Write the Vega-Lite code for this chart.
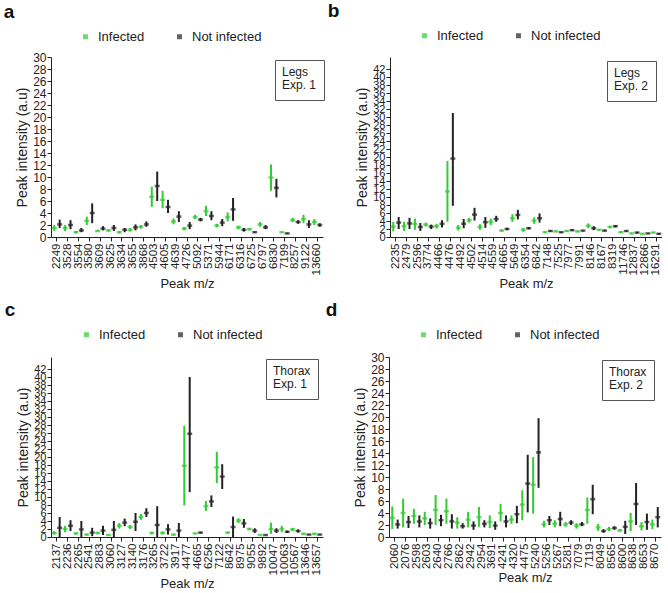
{
"$schema": "https://vega.github.io/schema/vega-lite/v6.json",
"padding": {"left": 3, "top": 2, "right": 0, "bottom": 0},
"config": {
  "font": "Liberation Sans",
  "view": {"stroke": null},
  "axis": {"grid": false, "domainColor": "#222", "tickColor": "#222", "labelColor": "#222", "titleColor": "#222", "titleFontWeight": "normal", "tickSize": 4, "labelFontSize": 12, "titleFontSize": 14},
  "axisX": {"labelAngle": 270, "labelFontSize": 11.5, "titleFontSize": 13, "labelPadding": 2, "titlePadding": 3},
  "axisY": {"labelOverlap": false, "labelPadding": 1, "titlePadding": 3},
  "title": {"fontSize": 19, "fontWeight": "bold", "anchor": "start", "color": "#111", "frame": "bounds"},
  "legend": {"labelColor": "#222", "titleColor": "#222"}
},
"datasets": {
"a": [
{"mz":2249,"g":"Infected","m":1.5,"lo":1.0,"hi":2.0},{"mz":2249,"g":"Not infected","m":2.1,"lo":1.5,"hi":2.9},
{"mz":3528,"g":"Infected","m":1.5,"lo":1.0,"hi":2.0},{"mz":3528,"g":"Not infected","m":2.0,"lo":1.3,"hi":2.8},
{"mz":3554,"g":"Infected","m":0.8,"lo":0.6,"hi":1.0},{"mz":3554,"g":"Not infected","m":1.1,"lo":0.8,"hi":1.5},
{"mz":3580,"g":"Infected","m":2.7,"lo":2.0,"hi":3.4},{"mz":3580,"g":"Not infected","m":4.0,"lo":2.3,"hi":5.6},
{"mz":3609,"g":"Infected","m":1.0,"lo":0.9,"hi":1.2},{"mz":3609,"g":"Not infected","m":1.4,"lo":1.1,"hi":1.8},
{"mz":3625,"g":"Infected","m":1.1,"lo":0.9,"hi":1.3},{"mz":3625,"g":"Not infected","m":1.5,"lo":1.0,"hi":2.0},
{"mz":3634,"g":"Infected","m":0.8,"lo":0.6,"hi":1.0},{"mz":3634,"g":"Not infected","m":1.2,"lo":0.8,"hi":1.5},
{"mz":3655,"g":"Infected","m":1.2,"lo":0.9,"hi":1.5},{"mz":3655,"g":"Not infected","m":1.6,"lo":1.1,"hi":2.1},
{"mz":3868,"g":"Infected","m":1.7,"lo":1.4,"hi":2.0},{"mz":3868,"g":"Not infected","m":2.1,"lo":1.7,"hi":2.6},
{"mz":4503,"g":"Infected","m":6.7,"lo":5.0,"hi":8.4},{"mz":4503,"g":"Not infected","m":8.5,"lo":6.0,"hi":10.9},
{"mz":4605,"g":"Infected","m":6.2,"lo":4.8,"hi":7.7},{"mz":4605,"g":"Not infected","m":5.0,"lo":4.0,"hi":6.2},
{"mz":4639,"g":"Infected","m":2.6,"lo":2.1,"hi":3.1},{"mz":4639,"g":"Not infected","m":3.4,"lo":2.5,"hi":4.3},
{"mz":4726,"g":"Infected","m":1.4,"lo":1.1,"hi":1.7},{"mz":4726,"g":"Not infected","m":1.9,"lo":1.3,"hi":2.5},
{"mz":5092,"g":"Infected","m":3.3,"lo":3.0,"hi":3.7},{"mz":5092,"g":"Not infected","m":2.9,"lo":2.6,"hi":3.2},
{"mz":5371,"g":"Infected","m":4.3,"lo":3.5,"hi":5.2},{"mz":5371,"g":"Not infected","m":3.5,"lo":2.8,"hi":4.3},
{"mz":5944,"g":"Infected","m":1.9,"lo":1.6,"hi":2.2},{"mz":5944,"g":"Not infected","m":2.4,"lo":1.8,"hi":3.0},
{"mz":6171,"g":"Infected","m":3.3,"lo":2.6,"hi":4.1},{"mz":6171,"g":"Not infected","m":4.6,"lo":2.7,"hi":6.5},
{"mz":6316,"g":"Infected","m":1.6,"lo":1.3,"hi":1.9},{"mz":6316,"g":"Not infected","m":1.2,"lo":0.9,"hi":1.5},
{"mz":6725,"g":"Infected","m":1.3,"lo":1.1,"hi":1.5},{"mz":6725,"g":"Not infected","m":0.8,"lo":0.7,"hi":0.9},
{"mz":6797,"g":"Infected","m":2.1,"lo":1.7,"hi":2.5},{"mz":6797,"g":"Not infected","m":1.6,"lo":1.3,"hi":2.0},
{"mz":6830,"g":"Infected","m":9.9,"lo":7.7,"hi":12.1},{"mz":6830,"g":"Not infected","m":8.2,"lo":6.6,"hi":9.7},
{"mz":7199,"g":"Infected","m":0.8,"lo":0.7,"hi":0.9},{"mz":7199,"g":"Not infected","m":0.6,"lo":0.5,"hi":0.7},
{"mz":8257,"g":"Infected","m":2.8,"lo":2.5,"hi":3.2},{"mz":8257,"g":"Not infected","m":2.5,"lo":2.2,"hi":2.8},
{"mz":9122,"g":"Infected","m":3.0,"lo":2.3,"hi":3.7},{"mz":9122,"g":"Not infected","m":2.1,"lo":1.5,"hi":2.8},
{"mz":13660,"g":"Infected","m":2.5,"lo":2.0,"hi":3.0},{"mz":13660,"g":"Not infected","m":2.0,"lo":1.7,"hi":2.3}
],
"b": [
{"mz":2235,"g":"Infected","m":2.6,"lo":1.4,"hi":3.8},{"mz":2235,"g":"Not infected","m":3.6,"lo":2.0,"hi":5.0},
{"mz":2479,"g":"Infected","m":2.7,"lo":1.5,"hi":3.8},{"mz":2479,"g":"Not infected","m":3.4,"lo":2.0,"hi":4.8},
{"mz":2596,"g":"Infected","m":3.3,"lo":1.8,"hi":4.6},{"mz":2596,"g":"Not infected","m":2.5,"lo":1.5,"hi":3.5},
{"mz":3774,"g":"Infected","m":3.1,"lo":2.6,"hi":3.6},{"mz":3774,"g":"Not infected","m":2.6,"lo":2.0,"hi":3.1},
{"mz":4466,"g":"Infected","m":2.7,"lo":2.1,"hi":3.3},{"mz":4466,"g":"Not infected","m":3.3,"lo":2.4,"hi":4.2},
{"mz":4476,"g":"Infected","m":11.4,"lo":3.8,"hi":19.0},{"mz":4476,"g":"Not infected","m":19.6,"lo":7.8,"hi":31.0},
{"mz":4492,"g":"Infected","m":2.3,"lo":1.6,"hi":3.0},{"mz":4492,"g":"Not infected","m":3.3,"lo":2.2,"hi":4.5},
{"mz":4502,"g":"Infected","m":4.2,"lo":3.6,"hi":4.8},{"mz":4502,"g":"Not infected","m":5.6,"lo":4.1,"hi":7.3},
{"mz":4514,"g":"Infected","m":2.5,"lo":1.8,"hi":3.2},{"mz":4514,"g":"Not infected","m":3.7,"lo":2.3,"hi":5.0},
{"mz":4559,"g":"Infected","m":3.8,"lo":3.0,"hi":4.6},{"mz":4559,"g":"Not infected","m":4.5,"lo":3.8,"hi":5.3},
{"mz":4665,"g":"Infected","m":1.6,"lo":1.4,"hi":1.9},{"mz":4665,"g":"Not infected","m":2.0,"lo":1.7,"hi":2.3},
{"mz":5649,"g":"Infected","m":4.7,"lo":3.8,"hi":5.7},{"mz":5649,"g":"Not infected","m":5.5,"lo":4.4,"hi":6.8},
{"mz":6354,"g":"Infected","m":1.8,"lo":1.3,"hi":2.3},{"mz":6354,"g":"Not infected","m":2.2,"lo":1.9,"hi":2.5},
{"mz":6842,"g":"Infected","m":4.1,"lo":3.3,"hi":4.9},{"mz":6842,"g":"Not infected","m":4.7,"lo":3.6,"hi":5.9},
{"mz":7148,"g":"Infected","m":1.2,"lo":1.0,"hi":1.4},{"mz":7148,"g":"Not infected","m":1.5,"lo":1.3,"hi":1.7},
{"mz":7525,"g":"Infected","m":1.4,"lo":1.2,"hi":1.6},{"mz":7525,"g":"Not infected","m":1.2,"lo":1.0,"hi":1.3},
{"mz":7977,"g":"Infected","m":1.5,"lo":1.3,"hi":1.7},{"mz":7977,"g":"Not infected","m":1.7,"lo":1.5,"hi":1.9},
{"mz":7991,"g":"Infected","m":1.4,"lo":1.2,"hi":1.6},{"mz":7991,"g":"Not infected","m":1.6,"lo":1.4,"hi":1.7},
{"mz":8146,"g":"Infected","m":2.8,"lo":2.2,"hi":3.4},{"mz":8146,"g":"Not infected","m":2.2,"lo":1.7,"hi":2.7},
{"mz":8167,"g":"Infected","m":1.8,"lo":1.6,"hi":2.0},{"mz":8167,"g":"Not infected","m":1.6,"lo":1.4,"hi":1.8},
{"mz":8319,"g":"Infected","m":2.5,"lo":2.2,"hi":2.8},{"mz":8319,"g":"Not infected","m":2.7,"lo":2.4,"hi":3.0},
{"mz":11746,"g":"Infected","m":1.2,"lo":1.0,"hi":1.5},{"mz":11746,"g":"Not infected","m":1.5,"lo":1.3,"hi":1.7},
{"mz":12837,"g":"Infected","m":0.9,"lo":0.8,"hi":1.1},{"mz":12837,"g":"Not infected","m":1.1,"lo":0.9,"hi":1.3},
{"mz":12866,"g":"Infected","m":0.8,"lo":0.7,"hi":0.9},{"mz":12866,"g":"Not infected","m":0.9,"lo":0.8,"hi":1.0},
{"mz":16291,"g":"Infected","m":1.1,"lo":0.9,"hi":1.3},{"mz":16291,"g":"Not infected","m":0.8,"lo":0.6,"hi":1.0}
],
"c": [
{"mz":2137,"g":"Infected","m":1.0,"lo":0.6,"hi":1.4},{"mz":2137,"g":"Not infected","m":2.3,"lo":0.0,"hi":5.0},
{"mz":2236,"g":"Infected","m":2.0,"lo":1.2,"hi":2.8},{"mz":2236,"g":"Not infected","m":2.8,"lo":1.5,"hi":4.2},
{"mz":2265,"g":"Infected","m":0.9,"lo":0.6,"hi":1.1},{"mz":2265,"g":"Not infected","m":1.9,"lo":0.0,"hi":4.0},
{"mz":2541,"g":"Infected","m":0.6,"lo":0.4,"hi":0.8},{"mz":2541,"g":"Not infected","m":1.1,"lo":0.2,"hi":2.3},
{"mz":2883,"g":"Infected","m":1.0,"lo":0.7,"hi":1.3},{"mz":2883,"g":"Not infected","m":1.6,"lo":0.5,"hi":2.8},
{"mz":3060,"g":"Infected","m":0.5,"lo":0.4,"hi":0.6},{"mz":3060,"g":"Not infected","m":1.8,"lo":0.0,"hi":4.0},
{"mz":3127,"g":"Infected","m":2.8,"lo":2.1,"hi":3.5},{"mz":3127,"g":"Not infected","m":3.6,"lo":2.7,"hi":4.6},
{"mz":3140,"g":"Infected","m":2.5,"lo":2.0,"hi":3.0},{"mz":3140,"g":"Not infected","m":3.8,"lo":1.5,"hi":6.0},
{"mz":3176,"g":"Infected","m":5.0,"lo":4.3,"hi":5.8},{"mz":3176,"g":"Not infected","m":6.0,"lo":5.0,"hi":7.2},
{"mz":3265,"g":"Infected","m":1.0,"lo":0.7,"hi":1.3},{"mz":3265,"g":"Not infected","m":3.0,"lo":0.0,"hi":7.7},
{"mz":3722,"g":"Infected","m":1.0,"lo":0.6,"hi":1.4},{"mz":3722,"g":"Not infected","m":1.9,"lo":0.6,"hi":3.2},
{"mz":3917,"g":"Infected","m":0.6,"lo":0.4,"hi":0.8},{"mz":3917,"g":"Not infected","m":1.6,"lo":0.0,"hi":3.5},
{"mz":4477,"g":"Infected","m":17.8,"lo":7.9,"hi":27.8},{"mz":4477,"g":"Not infected","m":25.8,"lo":11.2,"hi":40.0},
{"mz":4665,"g":"Infected","m":0.9,"lo":0.8,"hi":1.0},{"mz":4665,"g":"Not infected","m":1.1,"lo":0.9,"hi":1.3},
{"mz":6256,"g":"Infected","m":7.7,"lo":6.5,"hi":9.0},{"mz":6256,"g":"Not infected","m":8.9,"lo":7.5,"hi":10.4},
{"mz":7122,"g":"Infected","m":17.4,"lo":13.5,"hi":21.3},{"mz":7122,"g":"Not infected","m":15.1,"lo":12.0,"hi":18.2},
{"mz":8642,"g":"Infected","m":1.1,"lo":0.9,"hi":1.3},{"mz":8642,"g":"Not infected","m":2.5,"lo":0.0,"hi":5.1},
{"mz":8975,"g":"Infected","m":4.1,"lo":3.5,"hi":4.7},{"mz":8975,"g":"Not infected","m":3.4,"lo":2.3,"hi":4.5},
{"mz":9055,"g":"Infected","m":2.0,"lo":1.7,"hi":2.3},{"mz":9055,"g":"Not infected","m":1.6,"lo":1.0,"hi":2.2},
{"mz":9892,"g":"Infected","m":0.5,"lo":0.4,"hi":0.6},{"mz":9892,"g":"Not infected","m":0.5,"lo":0.4,"hi":0.6},
{"mz":10047,"g":"Infected","m":2.0,"lo":0.8,"hi":3.6},{"mz":10047,"g":"Not infected","m":1.6,"lo":1.0,"hi":2.2},
{"mz":10063,"g":"Infected","m":2.0,"lo":1.2,"hi":2.8},{"mz":10063,"g":"Not infected","m":1.3,"lo":1.0,"hi":1.6},
{"mz":10567,"g":"Infected","m":1.9,"lo":1.5,"hi":2.3},{"mz":10567,"g":"Not infected","m":1.5,"lo":1.1,"hi":1.9},
{"mz":13646,"g":"Infected","m":0.8,"lo":0.6,"hi":1.0},{"mz":13646,"g":"Not infected","m":0.6,"lo":0.5,"hi":0.7},
{"mz":13657,"g":"Infected","m":0.8,"lo":0.6,"hi":1.0},{"mz":13657,"g":"Not infected","m":0.6,"lo":0.5,"hi":0.7}
],
"d": [
{"mz":2060,"g":"Infected","m":3.2,"lo":1.3,"hi":5.1},{"mz":2060,"g":"Not infected","m":2.1,"lo":1.4,"hi":2.9},
{"mz":2076,"g":"Infected","m":4.0,"lo":1.6,"hi":6.4},{"mz":2076,"g":"Not infected","m":2.5,"lo":1.5,"hi":3.5},
{"mz":2598,"g":"Infected","m":3.5,"lo":2.2,"hi":4.7},{"mz":2598,"g":"Not infected","m":2.6,"lo":1.6,"hi":3.6},
{"mz":2603,"g":"Infected","m":3.1,"lo":2.0,"hi":4.2},{"mz":2603,"g":"Not infected","m":2.3,"lo":1.4,"hi":3.1},
{"mz":2640,"g":"Infected","m":4.5,"lo":2.0,"hi":7.0},{"mz":2640,"g":"Not infected","m":2.8,"lo":1.8,"hi":3.7},
{"mz":2766,"g":"Infected","m":4.3,"lo":2.2,"hi":6.4},{"mz":2766,"g":"Not infected","m":2.6,"lo":1.4,"hi":3.8},
{"mz":2862,"g":"Infected","m":2.4,"lo":1.4,"hi":3.3},{"mz":2862,"g":"Not infected","m":1.8,"lo":1.4,"hi":2.3},
{"mz":2942,"g":"Infected","m":2.9,"lo":1.6,"hi":4.2},{"mz":2942,"g":"Not infected","m":1.9,"lo":1.2,"hi":2.6},
{"mz":2954,"g":"Infected","m":3.3,"lo":1.7,"hi":5.0},{"mz":2954,"g":"Not infected","m":2.2,"lo":1.6,"hi":2.8},
{"mz":3691,"g":"Infected","m":2.5,"lo":1.5,"hi":3.6},{"mz":3691,"g":"Not infected","m":1.9,"lo":1.2,"hi":2.6},
{"mz":4241,"g":"Infected","m":4.0,"lo":2.6,"hi":5.5},{"mz":4241,"g":"Not infected","m":2.6,"lo":1.6,"hi":3.6},
{"mz":4320,"g":"Infected","m":2.9,"lo":2.2,"hi":3.6},{"mz":4320,"g":"Not infected","m":3.8,"lo":2.3,"hi":5.2},
{"mz":4475,"g":"Infected","m":5.4,"lo":2.8,"hi":7.8},{"mz":4475,"g":"Not infected","m":8.9,"lo":4.1,"hi":13.7},
{"mz":5240,"g":"Infected","m":8.7,"lo":3.9,"hi":13.3},{"mz":5240,"g":"Not infected","m":14.1,"lo":8.2,"hi":19.8},
{"mz":5256,"g":"Infected","m":2.1,"lo":1.6,"hi":2.7},{"mz":5256,"g":"Not infected","m":2.8,"lo":2.0,"hi":3.5},
{"mz":5267,"g":"Infected","m":2.2,"lo":1.6,"hi":2.8},{"mz":5267,"g":"Not infected","m":3.0,"lo":1.8,"hi":4.2},
{"mz":5281,"g":"Infected","m":2.1,"lo":1.7,"hi":2.5},{"mz":5281,"g":"Not infected","m":2.4,"lo":2.0,"hi":2.8},
{"mz":7079,"g":"Infected","m":1.9,"lo":1.4,"hi":2.3},{"mz":7079,"g":"Not infected","m":2.1,"lo":1.8,"hi":2.5},
{"mz":7119,"g":"Infected","m":4.5,"lo":2.2,"hi":6.6},{"mz":7119,"g":"Not infected","m":6.3,"lo":3.8,"hi":8.7},
{"mz":8049,"g":"Infected","m":1.6,"lo":1.0,"hi":2.2},{"mz":8049,"g":"Not infected","m":1.0,"lo":0.7,"hi":1.3},
{"mz":8565,"g":"Infected","m":1.3,"lo":1.0,"hi":1.7},{"mz":8565,"g":"Not infected","m":1.5,"lo":1.2,"hi":1.8},
{"mz":8600,"g":"Infected","m":1.1,"lo":0.9,"hi":1.3},{"mz":8600,"g":"Not infected","m":1.7,"lo":0.5,"hi":2.7},
{"mz":8638,"g":"Infected","m":2.6,"lo":1.0,"hi":4.0},{"mz":8638,"g":"Not infected","m":5.5,"lo":2.0,"hi":9.0},
{"mz":8653,"g":"Infected","m":1.8,"lo":1.1,"hi":2.5},{"mz":8653,"g":"Not infected","m":2.5,"lo":1.2,"hi":3.9},
{"mz":8670,"g":"Infected","m":2.1,"lo":1.3,"hi":2.9},{"mz":8670,"g":"Not infected","m":3.3,"lo":1.6,"hi":5.0}
]
},
"spacing": 10,
"resolve": {"scale": {"color": "independent", "shape": "independent"}, "legend": {"color": "independent", "shape": "independent"}},
"vconcat": [
{
"spacing": 2,
"resolve": {"scale": {"color": "independent", "shape": "independent"}, "legend": {"color": "independent", "shape": "independent"}},
"hconcat": [
{
"width": 272, "height": 180,
"title": {"text": "a", "dx": -12, "offset": 8},
"layer": [
{"data": {"name": "a"}, "mark": {"type": "rule", "strokeWidth": 2},
 "encoding": {
  "x": {"field": "mz", "type": "ordinal", "title": "Peak m/z", "scale": {"paddingInner": 0, "paddingOuter": 0.05}},
  "xOffset": {"field": "g", "type": "nominal", "scale": {"domain": ["Infected", "Not infected"], "paddingInner": 0, "paddingOuter": 0}},
  "y": {"field": "lo", "type": "quantitative", "title": "Peak intensity (a.u)", "scale": {"domain": [0, 30]}, "axis": {"values": [0,2,4,6,8,10,12,14,16,18,20,22,24,26,28,30], "labelOverlap": false}},
  "y2": {"field": "hi"},
  "color": {"field": "g", "type": "nominal", "scale": {"domain": ["Infected", "Not infected"], "range": ["#33cc33", "#222222"]},
   "legend": {"orient": "none", "legendX": 28, "legendY": -27, "direction": "horizontal", "title": null, "symbolType": "square", "symbolSize": 12, "labelFontSize": 13, "columnPadding": 28, "labelOffset": 6, "padding": 0}}
 }},
{"data": {"name": "a"}, "mark": {"type": "tick", "thickness": 2.5, "size": 5},
 "encoding": {
  "x": {"field": "mz", "type": "ordinal", "title": "Peak m/z"},
  "xOffset": {"field": "g", "type": "nominal"},
  "y": {"field": "m", "type": "quantitative", "title": "Peak intensity (a.u)", "axis": {"values": [0,2,4,6,8,10,12,14,16,18,20,22,24,26,28,30], "labelOverlap": false}},
  "color": {"field": "g", "type": "nominal"}
 }},
{"data": {"values": [{"tissue": "Legs", "exp": "Exp. 1"}]}, "mark": {"type": "point", "opacity": 0},
 "encoding": {"shape": {"field": "exp", "type": "nominal", "legend": {"title": ["Legs", "Exp. 1"], "orient": "none", "legendX": 224, "legendY": 3, "strokeColor": "#555", "padding": 7, "titleFontSize": 12, "titleLineHeight": 12.5, "titleFontWeight": "normal", "titlePadding": 0, "labelExpr": "''", "labelFontSize": 1, "symbolSize": 1, "symbolStrokeWidth": 0, "symbolOpacity": 0, "labelOffset": 0}}}}
]
},
{
"width": 272, "height": 180,
"title": {"text": "b", "dx": -28, "offset": 8},
"layer": [
{"data": {"name": "b"}, "mark": {"type": "rule", "strokeWidth": 2},
 "encoding": {
  "x": {"field": "mz", "type": "ordinal", "title": "Peak m/z", "scale": {"paddingInner": 0, "paddingOuter": 0.05}},
  "xOffset": {"field": "g", "type": "nominal", "scale": {"domain": ["Infected", "Not infected"], "paddingInner": 0, "paddingOuter": 0}},
  "y": {"field": "lo", "type": "quantitative", "title": "Peak intensity (a.u)", "scale": {"domain": [0, 42]}, "axis": {"values": [0,2,4,6,8,10,12,14,16,18,20,22,24,26,28,30,32,34,36,38,40,42], "labelOverlap": false, "labelFontSize": 11}},
  "y2": {"field": "hi"},
  "color": {"field": "g", "type": "nominal", "scale": {"domain": ["Infected", "Not infected"], "range": ["#33cc33", "#222222"]},
   "legend": {"orient": "none", "legendX": 28, "legendY": -28, "direction": "horizontal", "title": null, "symbolType": "square", "symbolSize": 12, "labelFontSize": 13, "columnPadding": 28, "labelOffset": 6, "padding": 0}}
 }},
{"data": {"name": "b"}, "mark": {"type": "tick", "thickness": 2.5, "size": 5},
 "encoding": {
  "x": {"field": "mz", "type": "ordinal", "title": "Peak m/z"},
  "xOffset": {"field": "g", "type": "nominal"},
  "y": {"field": "m", "type": "quantitative", "title": "Peak intensity (a.u)", "axis": {"values": [0,2,4,6,8,10,12,14,16,18,20,22,24,26,28,30,32,34,36,38,40,42], "labelOverlap": false, "labelFontSize": 11}},
  "color": {"field": "g", "type": "nominal"}
 }},
{"data": {"values": [{"tissue": "Legs", "exp": "Exp. 2"}]}, "mark": {"type": "point", "opacity": 0},
 "encoding": {"shape": {"field": "exp", "type": "nominal", "legend": {"title": ["Legs", "Exp. 2"], "orient": "none", "legendX": 217, "legendY": 4, "strokeColor": "#555", "padding": 7, "titleFontSize": 12, "titleLineHeight": 12.5, "titleFontWeight": "normal", "titlePadding": 0, "labelExpr": "''", "labelFontSize": 1, "symbolSize": 1, "symbolStrokeWidth": 0, "symbolOpacity": 0, "labelOffset": 0}}}}
]
}
]
},
{
"spacing": 2,
"resolve": {"scale": {"color": "independent", "shape": "independent"}, "legend": {"color": "independent", "shape": "independent"}},
"hconcat": [
{
"width": 272, "height": 180,
"title": {"text": "c", "dx": -12, "offset": 8},
"layer": [
{"data": {"name": "c"}, "mark": {"type": "rule", "strokeWidth": 2},
 "encoding": {
  "x": {"field": "mz", "type": "ordinal", "title": "Peak m/z", "scale": {"paddingInner": 0, "paddingOuter": 0.05}},
  "xOffset": {"field": "g", "type": "nominal", "scale": {"domain": ["Infected", "Not infected"], "paddingInner": 0, "paddingOuter": 0}},
  "y": {"field": "lo", "type": "quantitative", "title": "Peak intensity (a.u)", "scale": {"domain": [0, 42]}, "axis": {"values": [0,2,4,6,8,10,12,14,16,18,20,22,24,26,28,30,32,34,36,38,40,42], "labelOverlap": false, "labelFontSize": 11}},
  "y2": {"field": "hi"},
  "color": {"field": "g", "type": "nominal", "scale": {"domain": ["Infected", "Not infected"], "range": ["#33cc33", "#222222"]},
   "legend": {"orient": "none", "legendX": 29, "legendY": -29, "direction": "horizontal", "title": null, "symbolType": "square", "symbolSize": 12, "labelFontSize": 13, "columnPadding": 28, "labelOffset": 6, "padding": 0}}
 }},
{"data": {"name": "c"}, "mark": {"type": "tick", "thickness": 2.5, "size": 5},
 "encoding": {
  "x": {"field": "mz", "type": "ordinal", "title": "Peak m/z"},
  "xOffset": {"field": "g", "type": "nominal"},
  "y": {"field": "m", "type": "quantitative", "title": "Peak intensity (a.u)", "axis": {"values": [0,2,4,6,8,10,12,14,16,18,20,22,24,26,28,30,32,34,36,38,40,42], "labelOverlap": false, "labelFontSize": 11}},
  "color": {"field": "g", "type": "nominal"}
 }},
{"data": {"values": [{"tissue": "Thorax", "exp": "Exp. 1"}]}, "mark": {"type": "point", "opacity": 0},
 "encoding": {"shape": {"field": "exp", "type": "nominal", "legend": {"title": ["Thorax", "Exp. 1"], "orient": "none", "legendX": 215, "legendY": 2, "strokeColor": "#555", "padding": 7, "titleFontSize": 12, "titleLineHeight": 12.5, "titleFontWeight": "normal", "titlePadding": 0, "labelExpr": "''", "labelFontSize": 1, "symbolSize": 1, "symbolStrokeWidth": 0, "symbolOpacity": 0, "labelOffset": 0}}}}
]
},
{
"width": 272, "height": 180,
"title": {"text": "d", "dx": -28, "offset": 8},
"layer": [
{"data": {"name": "d"}, "mark": {"type": "rule", "strokeWidth": 2},
 "encoding": {
  "x": {"field": "mz", "type": "ordinal", "title": "Peak m/z", "scale": {"paddingInner": 0, "paddingOuter": 0.05}},
  "xOffset": {"field": "g", "type": "nominal", "scale": {"domain": ["Infected", "Not infected"], "paddingInner": 0, "paddingOuter": 0}},
  "y": {"field": "lo", "type": "quantitative", "title": "Peak intensity (a.u)", "scale": {"domain": [0, 30]}, "axis": {"values": [0,2,4,6,8,10,12,14,16,18,20,22,24,26,28,30], "labelOverlap": false}},
  "y2": {"field": "hi"},
  "color": {"field": "g", "type": "nominal", "scale": {"domain": ["Infected", "Not infected"], "range": ["#33cc33", "#222222"]},
   "legend": {"orient": "none", "legendX": 28, "legendY": -29, "direction": "horizontal", "title": null, "symbolType": "square", "symbolSize": 12, "labelFontSize": 13, "columnPadding": 28, "labelOffset": 6, "padding": 0}}
 }},
{"data": {"name": "d"}, "mark": {"type": "tick", "thickness": 2.5, "size": 5},
 "encoding": {
  "x": {"field": "mz", "type": "ordinal", "title": "Peak m/z"},
  "xOffset": {"field": "g", "type": "nominal"},
  "y": {"field": "m", "type": "quantitative", "title": "Peak intensity (a.u)", "axis": {"values": [0,2,4,6,8,10,12,14,16,18,20,22,24,26,28,30], "labelOverlap": false}},
  "color": {"field": "g", "type": "nominal"}
 }},
{"data": {"values": [{"tissue": "Thorax", "exp": "Exp. 2"}]}, "mark": {"type": "point", "opacity": 0},
 "encoding": {"shape": {"field": "exp", "type": "nominal", "legend": {"title": ["Thorax", "Exp. 2"], "orient": "none", "legendX": 213, "legendY": 3, "strokeColor": "#555", "padding": 7, "titleFontSize": 12, "titleLineHeight": 12.5, "titleFontWeight": "normal", "titlePadding": 0, "labelExpr": "''", "labelFontSize": 1, "symbolSize": 1, "symbolStrokeWidth": 0, "symbolOpacity": 0, "labelOffset": 0}}}}
]
}
]
}
]
}
